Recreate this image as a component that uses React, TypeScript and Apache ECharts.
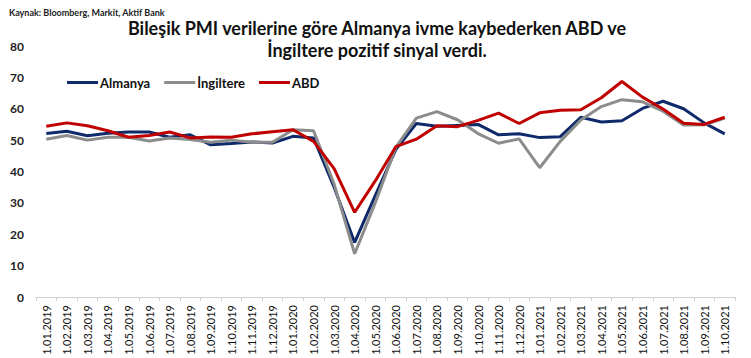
import React, { useEffect, useRef } from "react";
import * as echarts from "echarts";

const categories = [
  "1.01.2019","1.02.2019","1.03.2019","1.04.2019","1.05.2019","1.06.2019","1.07.2019","1.08.2019","1.09.2019","1.10.2019","1.11.2019","1.12.2019",
  "1.01.2020","1.02.2020","1.03.2020","1.04.2020","1.05.2020","1.06.2020","1.07.2020","1.08.2020","1.09.2020","1.10.2020","1.11.2020","1.12.2020",
  "1.01.2021","1.02.2021","1.03.2021","1.04.2021","1.05.2021","1.06.2021","1.07.2021","1.08.2021","1.09.2021","1.10.2021",
];

const almanya = [52.1, 52.8, 51.4, 52.2, 52.6, 52.6, 50.9, 51.7, 48.5, 48.9, 49.4, 49.1, 51.2, 50.7, 35.0, 17.4, 32.3, 47.0, 55.3, 54.4, 54.7, 55.0, 51.7, 52.0, 50.8, 51.1, 57.3, 55.8, 56.2, 60.1, 62.4, 60.0, 55.5, 52.0];
const ingiltere = [50.3, 51.5, 50.0, 50.9, 50.9, 49.7, 50.7, 50.2, 49.3, 50.0, 49.3, 49.3, 53.3, 53.0, 36.0, 13.8, 30.0, 47.7, 57.0, 59.1, 56.5, 52.1, 49.0, 50.4, 41.2, 49.6, 56.4, 60.7, 62.9, 62.2, 59.2, 54.8, 54.9, 57.0];
const abd = [54.4, 55.5, 54.6, 53.0, 50.9, 51.5, 52.6, 50.7, 51.0, 50.9, 52.0, 52.7, 53.3, 49.6, 40.9, 27.0, 37.0, 47.9, 50.3, 54.6, 54.3, 56.3, 58.6, 55.3, 58.7, 59.5, 59.7, 63.5, 68.7, 63.7, 59.9, 55.4, 55.0, 57.3];

const titleLines = [
  "Bileşik PMI verilerine göre Almanya ivme kaybederken ABD ve",
  "İngiltere pozitif sinyal verdi.",
];

const yTicks = { min: 0, max: 80, interval: 10 };

export default function App() {
  const ref = useRef<HTMLDivElement>(null);
  useEffect(() => {
    if (!ref.current) return;
    const chart = echarts.init(ref.current, undefined, { renderer: "svg" });
    const font = "Lato, 'Open Sans', sans-serif";
    const mk = (name: string, data: number[], color: string) => ({
      name,
      type: "line",
      data,
      symbol: "none",
      lineStyle: { color, width: 3 },
      itemStyle: { color },
    });
    const titleStyle = { fontSize: 18, fontWeight: "bold", color: "#111", lineHeight: 18, fontFamily: font };
    chart.setOption({
      animation: false,
      backgroundColor: "#ffffff",
      textStyle: { fontFamily: font },
      title: [
        {
          text: "Kaynak: Bloomberg, Markit, Aktif Bank",
          left: 4,
          top: 3,
          textStyle: { fontSize: 9, fontWeight: "bold", color: "#222", fontFamily: font },
        },
        { text: titleLines[0], left: 377, textAlign: "center", top: 19, padding: 0, textStyle: titleStyle },
        { text: titleLines[1], left: 377, textAlign: "center", top: 41, padding: 0, textStyle: titleStyle },
      ],
      legend: {
        left: 62,
        top: 71,
        itemWidth: 31,
        itemHeight: 3,
        itemGap: 14,
        icon: "rect",
        textStyle: { fontSize: 13, fontWeight: "bold", color: "#111", fontFamily: font, padding: [0, 0, 0, -3] },
        data: ["Almanya", "İngiltere", "ABD"],
      },
      grid: { left: 36, right: 16, top: 46, bottom: 61 },
      xAxis: {
        type: "category",
        data: categories,
        boundaryGap: true,
        axisLine: { lineStyle: { color: "#d0d0d0", width: 1 } },
        axisTick: { show: true, alignWithLabel: false, lineStyle: { color: "#d0d0d0" }, length: 4 },
        axisLabel: { rotate: 90, fontSize: 11, color: "#111", margin: 8, interval: 0, fontFamily: font },
      },
      yAxis: {
        type: "value",
        min: yTicks.min,
        max: yTicks.max,
        interval: yTicks.interval,
        axisLine: { show: false },
        axisTick: { show: false },
        splitLine: { show: false },
        axisLabel: { fontSize: 12, fontWeight: "bold", color: "#222", margin: 12, fontFamily: font },
      },
      series: [
        mk("Almanya", almanya, "#0F2A6B"),
        mk("İngiltere", ingiltere, "#8C8C8C"),
        mk("ABD", abd, "#C00000"),
      ],
    });
    return () => chart.dispose();
  }, []);
  return <div ref={ref} style={{ width: 751, height: 358, position: "absolute", left: 0, top: 0 }} />;
}
